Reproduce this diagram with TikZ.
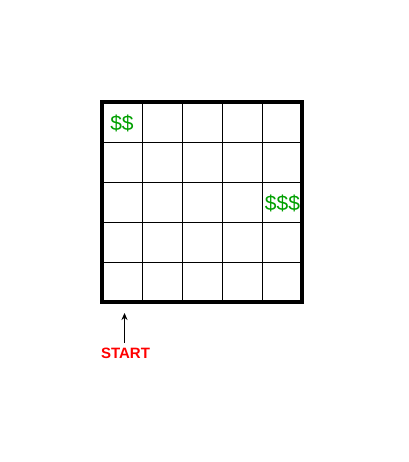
\documentclass[tikz,border=0pt]{standalone}
\usepackage{fontspec}
\setmainfont{Liberation Sans}
\usetikzlibrary{arrows.meta}
\definecolor{money}{RGB}{0,160,0}
\definecolor{startred}{RGB}{255,0,0}
\tikzset{
  thinline/.style={line width=0.8pt,black},
  border/.style={line width=4pt,black,line join=miter},
  moneytext/.style={text=money,font=\fontsize{21}{23}\selectfont,inner sep=0pt},
  starttext/.style={text=startred,font=\bfseries\fontsize{15}{17}\selectfont,inner sep=0pt},
  uparrow/.style={line width=0.8pt,-{Stealth[length=7pt,width=6pt]}}
}
\begin{document}
\begin{tikzpicture}[x=1pt,y=-1pt]
\useasboundingbox (0,0) rectangle (408,462);
\fill[white] (0,0) rectangle (408,462);
\foreach \i in {142,182,222,262}{
  \draw[thinline] (\i,102) -- (\i,302);
  \draw[thinline] (102,\i) -- (302,\i);
}
\draw[border] (102,102) rectangle (302,302);
\node[moneytext] (m1) at (122,123) {\$\$};
\node[moneytext] (m2) at (282.5,203) {\$\$\$};
\node[starttext] (start) at (125.5,353.5) {START};
\coordinate (tip) at (124.5,313);
\draw[uparrow,shorten <=5pt] (start.north -| tip) -- (tip);
\end{tikzpicture}
\end{document}
